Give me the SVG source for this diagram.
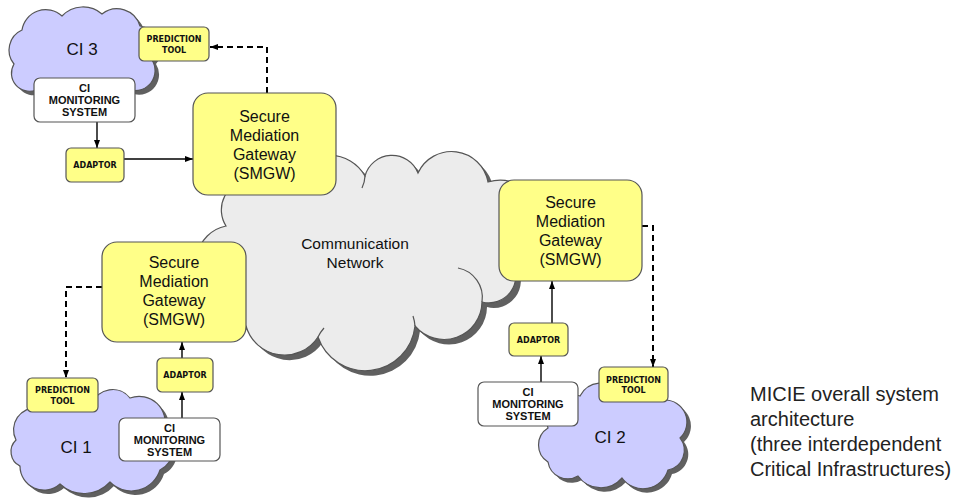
<svg xmlns="http://www.w3.org/2000/svg" width="971" height="498" viewBox="0 0 971 498">
<defs>
<style>
.ycl{fill:#ffff88;stroke:#555;stroke-width:1.2}
.wbox{fill:#ffffff;stroke:#555;stroke-width:1.2}
.lav{fill:#ccccff;stroke:#555;stroke-width:1.2}
.gray{fill:#ececec;stroke:#555;stroke-width:1.2}
.shadow{fill:#606060;stroke:none}
.inner{fill:none;stroke:#555;stroke-width:1.2}
.t16{font-family:"Liberation Sans",Arial,sans-serif;font-size:16px;fill:#111;text-anchor:middle}
.t15{font-family:"Liberation Sans",Arial,sans-serif;font-size:15.5px;fill:#111;text-anchor:middle}
.tci{font-family:"Liberation Sans",Arial,sans-serif;font-size:17px;fill:#111;text-anchor:middle}
.tsm{font-family:"DejaVu Sans",Verdana,sans-serif;font-weight:bold;font-size:8px;fill:#111;text-anchor:middle}
.tmon{font-family:"Liberation Sans",Arial,sans-serif;font-weight:bold;font-size:11px;fill:#111;text-anchor:middle}
.cap{font-family:"Liberation Sans",Arial,sans-serif;font-size:20px;fill:#222}
.ln{fill:none;stroke:#000;stroke-width:1.4}
.dl{fill:none;stroke:#000;stroke-width:2;stroke-dasharray:6,4}
</style>
<marker id="ah" markerUnits="userSpaceOnUse" markerWidth="8" markerHeight="6" refX="8" refY="3" orient="auto">
<path d="M0,0 L8,3 L0,6 z" fill="#000"/>
</marker>
<path id="cloudC" d="M214,292 A36 36 0 0 1 226,226 A30 30 0 0 1 250,180 A40 40 0 0 1 295,176 A40 40 0 0 1 365,176 A28 28 0 0 1 418,173 A37 37 0 0 1 488,182 A40 40 0 0 1 512,262 A27 27 0 0 1 482,302 A38 38 0 0 1 415,326 A50 50 0 0 1 318,337 A40 40 0 0 1 246,326 A40 40 0 0 1 214,292 Z"/>
<path id="cloud3" d="M36,90 A18 18 0 0 1 14,64 A22 22 0 0 1 22,30 A24 24 0 0 1 62,16 A29 29 0 0 1 102,14 A24 24 0 0 1 140,26 A20 20 0 0 1 152,60 A20 20 0 0 1 130,90 A60 60 0 0 1 36,90 Z"/>
<path id="cloud1" d="M60,484 A24 24 0 0 1 20,466 A16 16 0 0 1 16,440 A22 22 0 0 1 38,408 A30 30 0 0 1 92,404 A22 22 0 0 1 130,398 A26 26 0 0 1 164,430 A24 24 0 0 1 160,470 A30 30 0 0 1 110,482 A35 35 0 0 1 60,484 Z"/>
<path id="cloud2" d="M548,462 A20 20 0 0 1 548,428 A25 25 0 0 1 580,396 A24 24 0 0 1 620,392 A26 26 0 0 1 664,400 A22 22 0 0 1 680,438 A20 20 0 0 1 668,470 A26 26 0 0 1 622,478 A28 28 0 0 1 578,476 A20 20 0 0 1 548,462 Z"/>
</defs>
<rect width="971" height="498" fill="#ffffff"/>

<g id="communication-network">
<use href="#cloudC" class="shadow" transform="translate(5,5)"/>
<use href="#cloudC" class="gray"/>
<path class="inner" d="M482,302 A30 30 0 0 0 458,268"/>
<path class="inner" d="M415,326 A40 40 0 0 0 413,316"/>
<path class="inner" d="M365,176 A30 30 0 0 1 362,188"/>
<path class="inner" d="M318,337 A40 40 0 0 1 324,328"/>
<text class="t15" x="355" y="249">Communication</text>
<text class="t15" x="355" y="268">Network</text>
</g>

<g id="ci3">
<use href="#cloud3" class="shadow" transform="translate(4,4)"/>
<use href="#cloud3" class="lav"/>
<text class="tci" x="82" y="55">CI 3</text>
</g>
<g id="ci1">
<use href="#cloud1" class="shadow" transform="translate(4,4)"/>
<use href="#cloud1" class="lav"/>
<text class="tci" x="76" y="453">CI 1</text>
</g>
<g id="ci2">
<use href="#cloud2" class="shadow" transform="translate(4,4)"/>
<use href="#cloud2" class="lav"/>
<text class="tci" x="610" y="443">CI 2</text>
</g>

<g id="connectors">
<line class="ln" x1="97" y1="122" x2="97" y2="148" marker-end="url(#ah)"/>
<line class="ln" x1="124" y1="159" x2="193" y2="159" marker-end="url(#ah)"/>
<path class="dl" d="M267,93 V47 H210" marker-end="url(#ah)"/>
<path class="dl" d="M102,287 H66 V378" marker-end="url(#ah)"/>
<line class="ln" x1="182" y1="418" x2="182" y2="392" marker-end="url(#ah)"/>
<line class="ln" x1="182" y1="358" x2="182" y2="342" marker-end="url(#ah)"/>
<path class="dl" d="M642,226 H653 V367" marker-end="url(#ah)"/>
<line class="ln" x1="552" y1="323" x2="552" y2="281" marker-end="url(#ah)"/>
<line class="ln" x1="541" y1="382" x2="541" y2="356" marker-end="url(#ah)"/>
</g>

<g id="smgw-top">
<rect class="ycl" x="193" y="93" width="143" height="102" rx="15"/>
<text class="t16" x="264.5" y="122">Secure</text>
<text class="t16" x="264.5" y="141">Mediation</text>
<text class="t16" x="264.5" y="160">Gateway</text>
<text class="t16" x="264.5" y="179">(SMGW)</text>
</g>
<g id="smgw-left">
<rect class="ycl" x="102" y="242" width="144" height="100" rx="15"/>
<text class="t16" x="174" y="268">Secure</text>
<text class="t16" x="174" y="287">Mediation</text>
<text class="t16" x="174" y="306">Gateway</text>
<text class="t16" x="174" y="325">(SMGW)</text>
</g>
<g id="smgw-right">
<rect class="ycl" x="499" y="180" width="143" height="101" rx="15"/>
<text class="t16" x="570.5" y="208">Secure</text>
<text class="t16" x="570.5" y="227">Mediation</text>
<text class="t16" x="570.5" y="246">Gateway</text>
<text class="t16" x="570.5" y="265">(SMGW)</text>
</g>

<g id="prediction-ci3">
<rect class="ycl" x="139" y="27" width="70" height="34" rx="5"/>
<text class="tsm" x="174" y="42">PREDICTION</text>
<text class="tsm" x="174" y="52.5">TOOL</text>
</g>
<g id="monitoring-ci3">
<rect class="wbox" x="34" y="78" width="101" height="44" rx="6"/>
<text class="tmon" x="84.5" y="92">CI</text>
<text class="tmon" x="84.5" y="104">MONITORING</text>
<text class="tmon" x="84.5" y="116">SYSTEM</text>
</g>
<g id="adaptor-ci3">
<rect class="ycl" x="66" y="148" width="58" height="34" rx="5"/>
<text class="tsm" x="95" y="168">ADAPTOR</text>
</g>

<g id="prediction-ci1">
<rect class="ycl" x="27" y="378" width="71" height="34" rx="5"/>
<text class="tsm" x="62.5" y="393">PREDICTION</text>
<text class="tsm" x="62.5" y="403.5">TOOL</text>
</g>
<g id="adaptor-ci1">
<rect class="ycl" x="157" y="358" width="56" height="34" rx="5"/>
<text class="tsm" x="185" y="378">ADAPTOR</text>
</g>
<g id="monitoring-ci1">
<rect class="wbox" x="119" y="418" width="101" height="43" rx="6"/>
<text class="tmon" x="169.5" y="431.5">CI</text>
<text class="tmon" x="169.5" y="443.5">MONITORING</text>
<text class="tmon" x="169.5" y="455.5">SYSTEM</text>
</g>

<g id="adaptor-ci2">
<rect class="ycl" x="509" y="323" width="59" height="33" rx="5"/>
<text class="tsm" x="538.5" y="342.5">ADAPTOR</text>
</g>
<g id="monitoring-ci2">
<rect class="wbox" x="478" y="382" width="100" height="44" rx="6"/>
<text class="tmon" x="528" y="396">CI</text>
<text class="tmon" x="528" y="408">MONITORING</text>
<text class="tmon" x="528" y="420">SYSTEM</text>
</g>
<g id="prediction-ci2">
<rect class="ycl" x="599" y="367" width="69" height="35" rx="5"/>
<text class="tsm" x="633.5" y="382.5">PREDICTION</text>
<text class="tsm" x="633.5" y="393">TOOL</text>
</g>

<g id="caption">
<text class="cap" x="750" y="401">MICIE overall system</text>
<text class="cap" x="750" y="426">architecture</text>
<text class="cap" x="750" y="451">(three interdependent</text>
<text class="cap" x="750" y="476">Critical Infrastructures)</text>
</g>
</svg>
